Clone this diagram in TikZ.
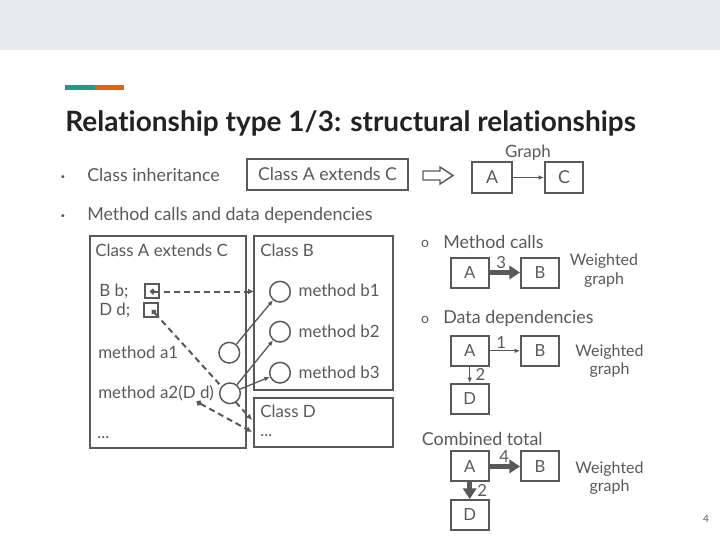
\documentclass[tikz,border=0pt]{standalone}
\usepackage{fontspec}
\setmainfont{Lato}[Ligatures={NoCommon}]
\usetikzlibrary{shapes.geometric,arrows.meta}
\definecolor{txtc}{HTML}{595959}
\definecolor{ttlc}{HTML}{222222}
\definecolor{lnc}{HTML}{595959}
\definecolor{bandc}{HTML}{E8EBEC}
\definecolor{mteal}{HTML}{1E9A8A}
\definecolor{morange}{HTML}{E8600A}
\begin{document}
\begin{tikzpicture}[x=0.75pt,y=-0.75pt,
  body/.style={anchor=base west,inner sep=0,text=txtc,font=\fontsize{13.4}{15}\selectfont},
  dtxt/.style={anchor=base west,inner sep=0,text=txtc,font=\fontsize{12.7}{14}\selectfont},
  wtxt/.style={inner sep=0,text=txtc,font=\fontsize{12}{14}\selectfont,align=center},
  lbl/.style={inner sep=0,text=txtc,font=\fontsize{12.5}{14}\selectfont},
  bx/.style={draw=lnc,line width=1.5pt,inner sep=0,text=txtc,font=\fontsize{12.5}{14}\selectfont},
  sq/.style={draw=lnc,line width=1.5pt,inner sep=0,minimum size=10.5pt},
  circ/.style={draw=lnc,line width=1.1pt,fill=white,ellipse,inner sep=0,minimum width=15.5pt,minimum height=15.5pt},
  thin/.style={draw=lnc,line width=1pt,-{Latex[length=4pt,width=3.5pt]}},
  thick/.style={draw=lnc,line width=3.5pt,-{Triangle[length=8pt,width=10pt]}},
  dsh/.style={draw=lnc,line width=1.5pt,dash pattern=on 4.5pt off 3pt,{Circle[length=4pt]}-{Latex[length=4.5pt,width=4.5pt]}},
]
\useasboundingbox (0,0) rectangle (720,540);
\fill[bandc] (0,0) rectangle (720,50);
\fill[mteal] (65,85) rectangle (95,90);
\fill[morange] (95,85) rectangle (124,90);

\node[anchor=base west,inner sep=0,text=ttlc,font=\bfseries\fontsize{21}{24}\selectfont] (title) at (65,131) {Relationship type 1/3: structural relationships};

% bullets
\node[inner sep=0,text=txtc,font=\fontsize{6}{7}\selectfont] (bul1) at (63,178) {•};
\node[inner sep=0,text=txtc,font=\fontsize{6}{7}\selectfont] (bul2) at (63,217) {•};
\node[body] (inh) at (87,181) {Class inheritance};
\node[body] (mcd) at (87,220) {Method calls and data dependencies};

% inheritance
\node[bx,minimum width=120.75pt,minimum height=23.25pt,font=\fontsize{13.3}{15}\selectfont] (ext) at (327.5,174.5) {Class A extends C};
\draw[lnc,line width=1.1pt,fill=white] (423,171) -- (440,171) -- (440,167) -- (453,175.5) -- (440,184) -- (440,180) -- (423,180) -- cycle;
\node[bx,minimum width=30pt,minimum height=23.25pt,font=\fontsize{13.3}{15}\selectfont] (gA) at (492,177.5) {A};
\node[bx,minimum width=28.5pt,minimum height=23.25pt,font=\fontsize{13.3}{15}\selectfont] (gC) at (564,177.5) {C};
\node[anchor=base,inner sep=0,text=txtc,font=\fontsize{12.7}{14}\selectfont] (graph) at (528,157) {Graph};
\draw[thin] (gA) -- (gC);

% left diagram
\node[bx,minimum width=117pt,minimum height=159pt] (clsA) at (168.3,342.2) {};
\node[bx,minimum width=104.25pt,minimum height=115.5pt] (clsB) at (323.7,313.4) {};
\node[bx,minimum width=104.25pt,minimum height=36.75pt] (clsD) at (323.7,422.8) {};
\node[dtxt] (tA) at (95,256.7) {Class A extends C};
\node[dtxt] (tbb) at (99,296.7) {B b;};
\node[dtxt] (tdd) at (99,315) {D d;};
\node[dtxt] (ta1) at (98,358.3) {method a1};
\node[dtxt] (ta2) at (98,398.3) {method a2(D d)};
\node[dtxt] (tAe) at (97,438.3) {...};
\node[dtxt] (tB) at (260,256.7) {Class B};
\node[dtxt] (tb1) at (298.3,296.7) {method b1};
\node[dtxt] (tb2) at (298.3,337.3) {method b2};
\node[dtxt] (tb3) at (298.3,378.3) {method b3};
\node[dtxt] (tD) at (260,417.3) {Class D};
\node[dtxt] (tDe) at (260,436.7) {...};

\node[sq] (sb) at (151.5,291.2) {};
\node[sq] (sd) at (151.2,310.3) {};
\coordinate (pb) at (150,291.5);
\coordinate (pdd) at (152,310);
\coordinate (pd) at (196.7,401.7);
\coordinate (eb) at (254,291.5);
\coordinate (ed1) at (252,420);
\coordinate (ed2) at (252,432);

\draw[dsh] (pb) -- (eb);
\draw[dsh] (pdd) -- (ed1);
\draw[dsh] (pd) -- (ed2);

\node[circ] (a1) at (229.3,352.7) {};
\node[circ] (a2) at (230,393.3) {};
\node[circ] (b1) at (280,291.7) {};
\node[circ] (b2) at (280,331.7) {};
\node[circ] (b3) at (280,372.7) {};
\draw[thin] (a1) -- (b1);
\draw[thin] (a2) -- (b2);
\draw[thin] (a2) -- (b3);

% right side
\node[inner sep=0,text=txtc,font=\fontsize{10.5}{12}\selectfont] (o1) at (425,244) {o};
\node[body] (mc) at (443,248.3) {Method calls};
\node[bx,minimum width=28.5pt,minimum height=22.5pt] (mA) at (469.7,272.5) {A};
\node[bx,minimum width=28.5pt,minimum height=22.5pt] (mB) at (540,272.5) {B};
\draw[thick] (mA) -- (mB) node[lbl,pos=0.38,above=1pt] (l3) {3};
\node[wtxt] (w1) at (604,270.5) {Weighted\\graph};

\node[inner sep=0,text=txtc,font=\fontsize{10.5}{12}\selectfont] (o2) at (425,319.5) {o};
\node[body] (dd) at (443,323.3) {Data dependencies};
\node[bx,minimum width=28.5pt,minimum height=22.5pt] (dA) at (469.7,350.8) {A};
\node[bx,minimum width=28.5pt,minimum height=22.5pt] (dB) at (540,350.8) {B};
\node[bx,minimum width=28.5pt,minimum height=22.5pt] (dD) at (469.7,399) {D};
\draw[thin] (dA) -- (dB) node[lbl,pos=0.38,above=1pt] (l1) {1};
\draw[thin] (dA) -- (dD) node[lbl,midway,right=4pt] (l2) {2};
\node[wtxt] (w2) at (609.5,361) {Weighted\\graph};

\node[body] (ct) at (421.7,445) {Combined total};
\node[bx,minimum width=28.5pt,minimum height=22.5pt] (cA) at (469.7,466.4) {A};
\node[bx,minimum width=28.5pt,minimum height=22.5pt] (cB) at (540,466.4) {B};
\node[bx,minimum width=28.5pt,minimum height=22.5pt] (cD) at (469.7,515) {D};
\draw[thick] (cA) -- (cB) node[lbl,pos=0.48,above=1pt] (l4) {4};
\draw[thick] (cA) -- (cD) node[lbl,midway,right=4pt] (l2b) {2};
\node[wtxt] (w3) at (609.5,478) {Weighted\\graph};

\node[inner sep=0,text=txtc,font=\fontsize{7.5}{9}\selectfont] (pg) at (706,519) {4};
\end{tikzpicture}
\end{document}
